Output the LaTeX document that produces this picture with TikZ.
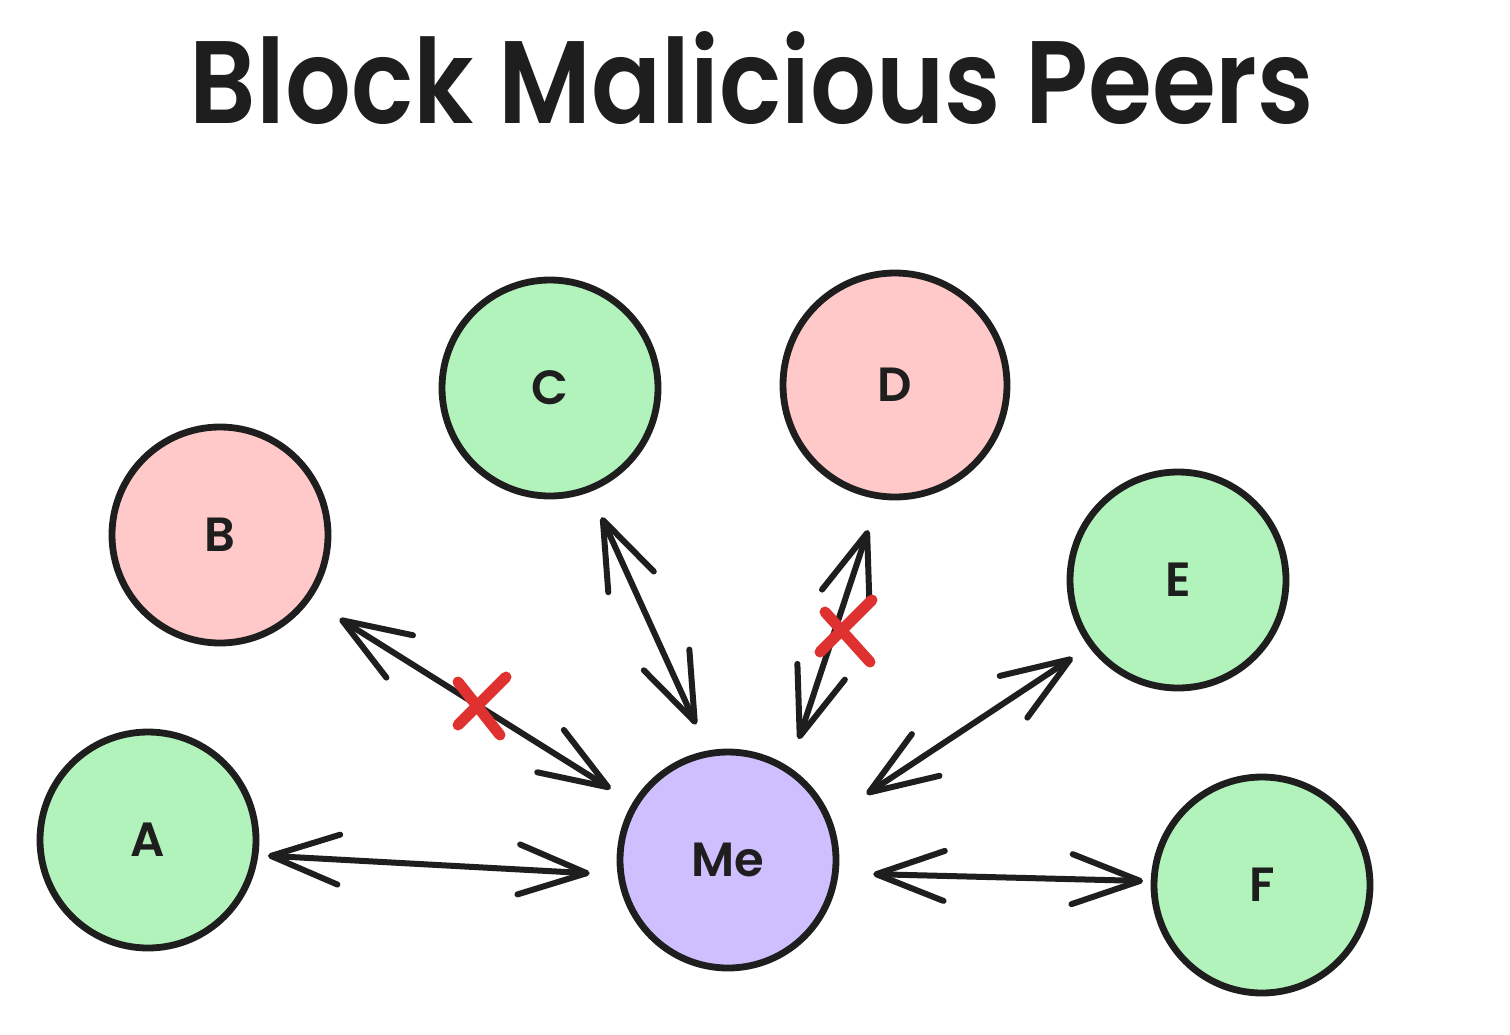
\documentclass[tikz,border=0pt]{standalone}
\usepackage{fontspec}
\setmainfont{Poppins}
\newfontfamily\heavyfont{Poppins SemiBold}
\usetikzlibrary{arrows.meta}
\definecolor{ink}{HTML}{1E1E1E}
\definecolor{okgreen}{HTML}{B2F2BB}
\definecolor{badred}{HTML}{FFC9C9}
\definecolor{mepurple}{HTML}{D0BFFF}
\definecolor{xred}{HTML}{E03131}
\tikzset{
  peer/.style={circle, draw=ink, line width=3.4pt, minimum size=108pt, inner sep=0pt, outer sep=0pt,
    font=\heavyfont\fontsize{24}{24}\selectfont, text=ink},
  link/.style={draw=ink, line width=3pt, line cap=round, line join=round,
    arrows={Straight Barb[length=34pt,width=25pt,line width=3pt,round]-Straight Barb[length=34pt,width=25pt,line width=3pt,round]}},
  cross/.style={draw=xred, line width=5.5pt, line cap=round}
}
\begin{document}
\begin{tikzpicture}[x=0.5pt,y=-0.5pt]
\useasboundingbox[fill=white] (0,0) rectangle (1510,1034);
\node[text=ink, anchor=south] (title) at (752,132) {\resizebox{562pt}{46pt}{\heavyfont Block Malicious Peers}};
\node[peer, fill=okgreen] (C) at (550,388) {C};
\node[peer, fill=badred, minimum size=112pt] (D) at (895,385) {D};
\node[peer, fill=badred] (B) at (220,535) {B};
\node[peer, fill=okgreen] (E) at (1178,580) {E};
\node[peer, fill=okgreen] (A) at (148,840) {A};
\node[peer, fill=mepurple] (Me) at (728,860) {Me};
\node[peer, fill=okgreen] (F) at (1262,885) {F};
\draw[link, shorten <=6.5pt, shorten >=15.7pt] (A.-8.5) -- (Me.188.2);
\draw[link, shorten <=19pt, shorten >=14.6pt] (B.-36.9) -- (Me.149.3);
\draw[link, shorten <=15.6pt, shorten >=16pt] (C.-69) -- (Me.100.3);
\draw[link, shorten <=18pt, shorten >=16.5pt] (D.-98.6) -- (Me.56.9);
\draw[link, shorten <=11.4pt, shorten >=23pt] (E.-143.4) -- (Me.22.9);
\draw[link, shorten <=5.5pt, shorten >=19pt] (F.178.6) -- (Me.-7.9);
\coordinate (xb) at (480,705);
\coordinate (xd) at (846,632);
\draw[cross] ([shift={(-22,-23)}]xb) -- ([shift={(20,30)}]xb);
\draw[cross] ([shift={(26,-28)}]xb) -- ([shift={(-22,20)}]xb);
\draw[cross] ([shift={(-21,-20)}]xd) -- ([shift={(24,30)}]xd);
\draw[cross] ([shift={(26,-32)}]xd) -- ([shift={(-26,20)}]xd);
\end{tikzpicture}
\end{document}
